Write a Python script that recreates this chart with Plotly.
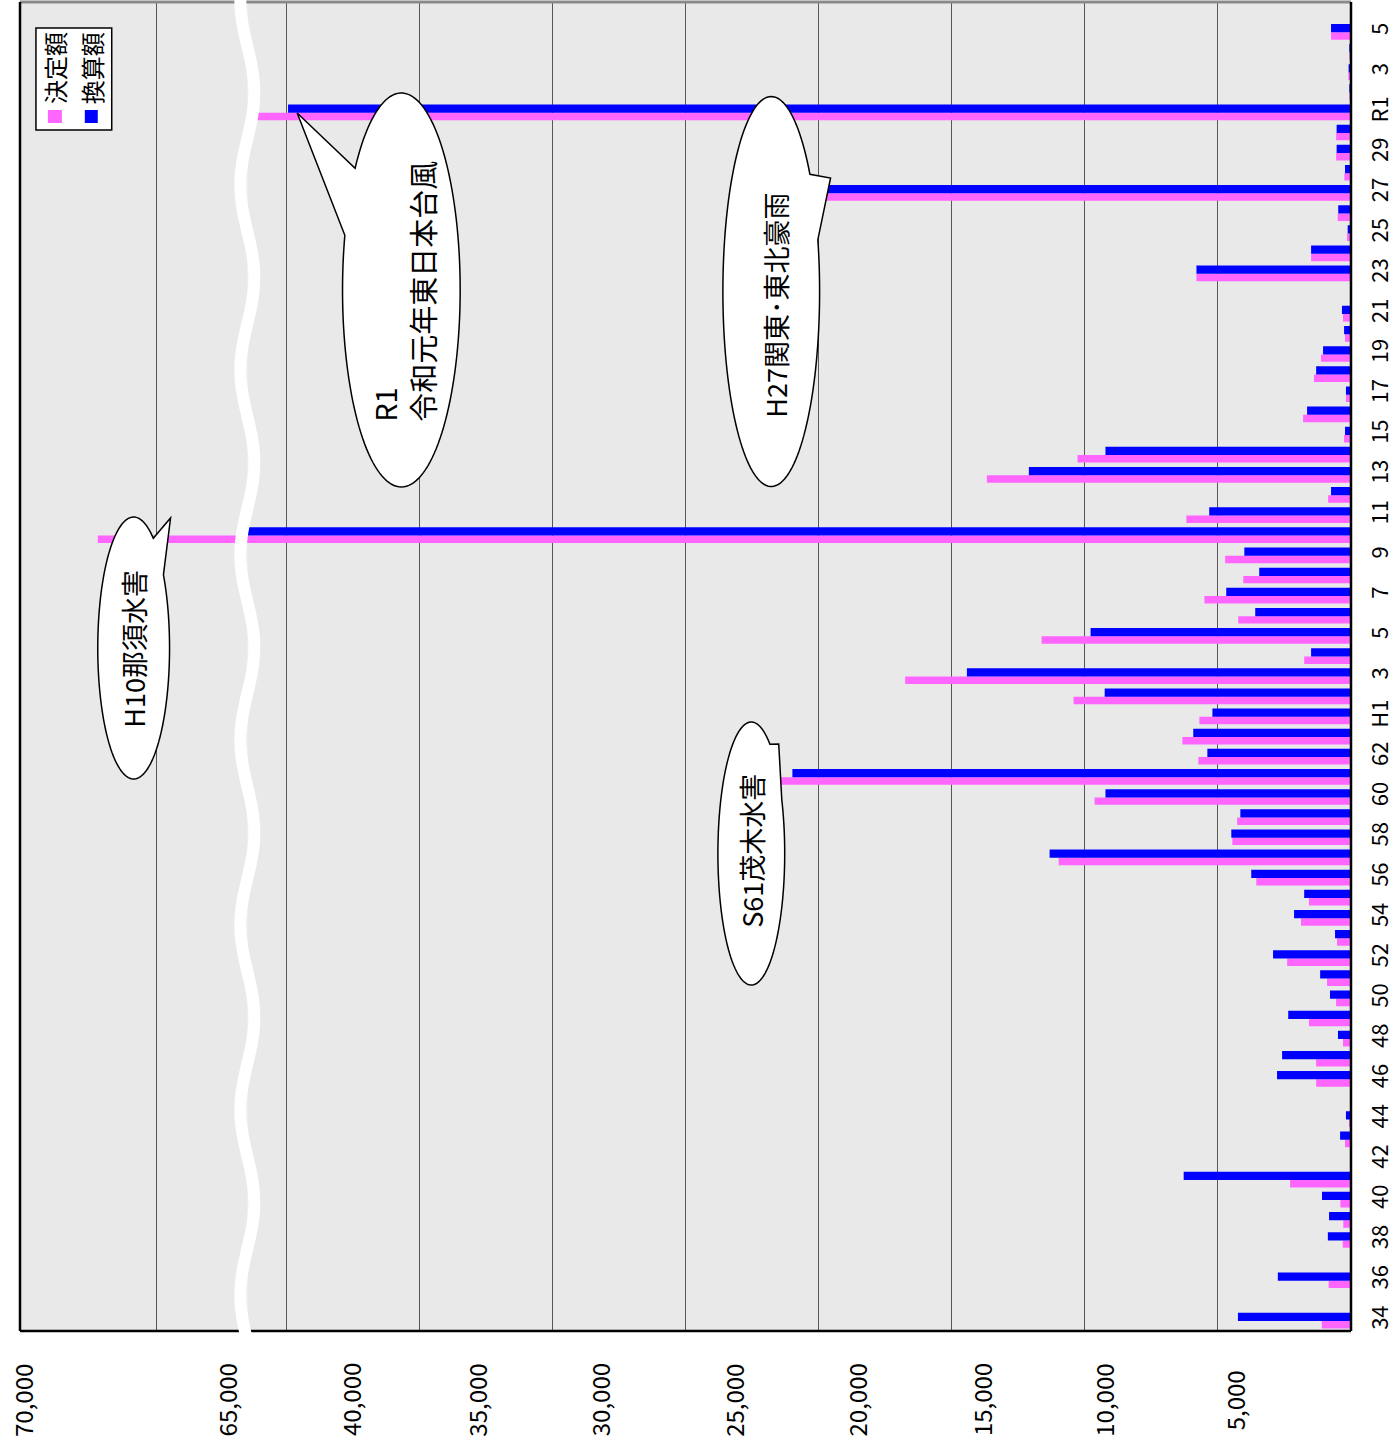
import math
import plotly.graph_objects as go

# ---------------- data ----------------
categories = ([f"S{n}" for n in range(34, 64)] +
              [f"H{n}" for n in range(1, 31)] +
              [f"R{n}" for n in range(1, 6)])

# 決定額 (decided amount)
decided = [
    1100, 0, 840, 0, 310, 290, 400, 2290, 0, 225,          # S34-S43
    75, 0, 1310, 1310, 300, 1580, 560, 900, 2400, 525,     # S44-S53
    1880, 1580, 3560, 10990, 4460, 4280, 9640, 21500, 5740, 6340,  # S54-S63
    5700, 10430, 16760, 1760, 11630, 4240, 5510, 4050, 4730, 68290,  # H1-H10
    6190, 860, 13690, 10280, 260, 1800, 190, 1390, 1130, 225,  # H11-H20
    300, 0, 5810, 1500, 150, 500, 21600, 250, 560, 560,    # H21-H30
    42000, 40, 100, 60, 750,                               # R1-R5
]
# 換算額 (converted amount)
converted = [
    4250, 0, 2750, 0, 870, 825, 1090, 6290, 0, 410,
    190, 0, 2780, 2590, 490, 2360, 790, 1160, 2930, 600,
    2140, 1760, 3750, 11330, 4500, 4160, 9230, 21000, 5400, 5930,
    5210, 9260, 14440, 1500, 9790, 3600, 4690, 3450, 4010, 58000,
    5330, 750, 12110, 9230, 225, 1650, 190, 1310, 1050, 260,
    340, 0, 5810, 1500, 125, 480, 21300, 225, 540, 540,
    39960, 60, 90, 60, 750,
]

cat_tickvals = categories[0::2]
cat_ticktext = ["34", "36", "38", "40", "42", "44", "46", "48", "50", "52",
                "54", "56", "58", "60", "62", "H1", "3", "5", "7", "9",
                "11", "13", "15", "17", "19", "21", "23", "25", "27", "29",
                "R1", "3", "5"]

value_labels = ["70,000", "65,000", "40,000", "35,000", "30,000", "25,000",
                "20,000", "15,000", "10,000", "5,000"]
value_label_px = [23, 228, 352, 478, 602, 736, 860, 985, 1107, 1239]

series_names = ["決定額", "換算額"]
series_colors = ["#FF66FF", "#0000FF"]

# ---------------- geometry ----------------
W, H = 1396, 1453
L, R, T, B = 20, 1355, 2, 1331
PX_PER_UNIT = 133.4 / 5000.0
BREAK_PX = 248
split = (BREAK_PX - L) / (R - L)
main_max = (R - BREAK_PX) / PX_PER_UNIT


def pp(x, y):
    return ((x - L) / (R - L), (B - y) / (B - T))


FONT = "Noto Sans CJK JP"

fig = go.Figure()

for name, vals, col, off, wd in [(series_names[0], decided, series_colors[0], -0.37, 0.37),
                                 (series_names[1], converted, series_colors[1], 0.0, 0.41)]:
    for xa in ["x", "x2"]:
        fig.add_trace(go.Bar(
            y=categories, x=vals, orientation="h", name=name,
            marker=dict(color=col, line=dict(width=0)),
            offset=off, width=wd, xaxis=xa, yaxis="y",
            showlegend=False, hoverinfo="x+y"))

fig.update_layout(
    width=W, height=H,
    margin=dict(l=L, r=W - R, t=T, b=H - B, pad=0),
    paper_bgcolor="white", plot_bgcolor="#E9E9E9",
    barmode="overlay", showlegend=False,
    font=dict(family=FONT, color="black"),
    xaxis=dict(domain=[split, 1], range=[main_max, 0], anchor="y",
               tickvals=[5000, 10000, 15000, 20000, 25000, 30000, 35000, 40000],
               showticklabels=False, showgrid=True, gridcolor="#585858", gridwidth=1,
               zeroline=False, showline=False, ticks=""),
    xaxis2=dict(domain=[0, split], range=[70000, 65000], anchor="y",
                tickvals=[67000], showticklabels=False, showgrid=True,
                gridcolor="#585858", gridwidth=1, zeroline=False, showline=False, ticks=""),
    yaxis=dict(type="category", categoryorder="array", categoryarray=categories,
               range=[-0.5, 65.5], side="right", anchor="x",
               tickvals=cat_tickvals, ticktext=cat_ticktext, tickangle=-90,
               tickfont=dict(size=22, family=FONT, color="black"),
               ticks="outside", ticklen=10, tickcolor="rgba(0,0,0,0)",
               showgrid=False, zeroline=False, showline=False),
)

shapes = []
# plot borders
shapes.append(dict(type="line", xref="paper", yref="paper", x0=0, x1=1, y0=1, y1=1,
                   line=dict(color="#8a8a8a", width=3), layer="above"))
shapes.append(dict(type="line", xref="paper", yref="paper", x0=0, x1=0, y0=0, y1=1,
                   line=dict(color="black", width=2.5), layer="above"))
shapes.append(dict(type="line", xref="paper", yref="paper", x0=1, x1=1, y0=0, y1=1,
                   line=dict(color="black", width=2.5), layer="above"))
shapes.append(dict(type="line", xref="paper", yref="paper", x0=0, x1=1, y0=0, y1=0,
                   line=dict(color="black", width=2.5), layer="above"))

# wavy white break line
pts = []
yy = -4
while yy <= 1336:
    xx = BREAK_PX - 7 * math.cos(2 * math.pi * yy / 185.0)
    pts.append(pp(xx, yy))
    yy += 4
path = "M " + " L ".join(f"{a:.5f},{b:.5f}" for a, b in pts)
shapes.append(dict(type="path", xref="paper", yref="paper", path=path,
                   line=dict(color="white", width=12), layer="above"))


def bubble(cx, cy, rx, ry, b1, tip, b2, n=140):
    t1 = math.atan2((b1[1] - cy) / ry, (b1[0] - cx) / rx)
    t2 = math.atan2((b2[1] - cy) / ry, (b2[0] - cx) / rx)
    d = (t2 - t1) % (2 * math.pi)
    if d < math.pi:
        span = -(2 * math.pi - d)
    else:
        span = d
    p = []
    for k in range(n + 1):
        t = t1 + span * k / n
        p.append(pp(cx + rx * math.cos(t), cy + ry * math.sin(t)))
    p.append(pp(*tip))
    return "M " + " L ".join(f"{a:.5f},{b:.5f}" for a, b in p) + " Z"


bubbles = [
    dict(c=(134, 648), r=(36, 131), b1=(153, 542), tip=(171, 518), b2=(165, 572)),
    dict(c=(402.5, 290), r=(59, 197), b1=(356, 168), tip=(298, 113), b2=(345.5, 235)),
    dict(c=(773.5, 291.5), r=(48.5, 195), b1=(812, 175), tip=(833, 178), b2=(820, 240)),
    dict(c=(753.5, 853.5), r=(33.5, 131.5), b1=(772, 745), tip=(781, 744), b2=(784, 800)),
]
for bb in bubbles:
    shapes.append(dict(type="path", xref="paper", yref="paper",
                       path=bubble(bb["c"][0], bb["c"][1], bb["r"][0], bb["r"][1],
                                   bb["b1"], bb["tip"], bb["b2"]),
                       fillcolor="white", line=dict(color="black", width=1.5), layer="above"))

# legend box
lx0, ly0 = pp(36, 130)
lx1, ly1 = pp(112, 28)
shapes.append(dict(type="rect", xref="paper", yref="paper", x0=lx0, y0=ly0, x1=lx1, y1=ly1,
                   fillcolor="white", line=dict(color="black", width=1.5), layer="above"))
for (sx0, sx1), col in zip([(48, 62), (85, 98)], series_colors):
    a0, b0 = pp(sx0, 123)
    a1, b1 = pp(sx1, 110)
    shapes.append(dict(type="rect", xref="paper", yref="paper", x0=a0, y0=b0, x1=a1, y1=b1,
                       fillcolor=col, line=dict(width=0), layer="above"))

annotations = []
for name, xc in zip(series_names, [54, 91.5]):
    ax, ay = pp(xc, 68)
    annotations.append(dict(xref="paper", yref="paper", x=ax, y=ay, text=name,
                            textangle=-90, showarrow=False, xanchor="center", yanchor="middle",
                            font=dict(size=24, family=FONT, color="black")))

for txt, xc in zip(value_labels, value_label_px):
    ax, ay = pp(xc, 1400)
    annotations.append(dict(xref="paper", yref="paper", x=ax, y=ay, text=txt,
                            textangle=-90, showarrow=False, xanchor="center", yanchor="middle",
                            font=dict(size=24, family=FONT, color="black")))

bubble_texts = [
    ("H10那須水害", 133, 649, 27),
    ("R1<br>令和元年東日本台風", 404, 291, 29),
    ("H27関東･東北豪雨", 777, 305, 27),
    ("S61茂木水害", 753, 851, 27),
]
for txt, xc, yc, fs in bubble_texts:
    ax, ay = pp(xc, yc)
    annotations.append(dict(xref="paper", yref="paper", x=ax, y=ay, text=txt,
                            textangle=-90, showarrow=False, xanchor="center", yanchor="middle",
                            align="left",
                            font=dict(size=fs, family=FONT, color="black")))

fig.update_layout(shapes=shapes, annotations=annotations)

fig.write_html("out.html", config={"displayModeBar": False},
               post_script="document.body.style.margin='0';")
